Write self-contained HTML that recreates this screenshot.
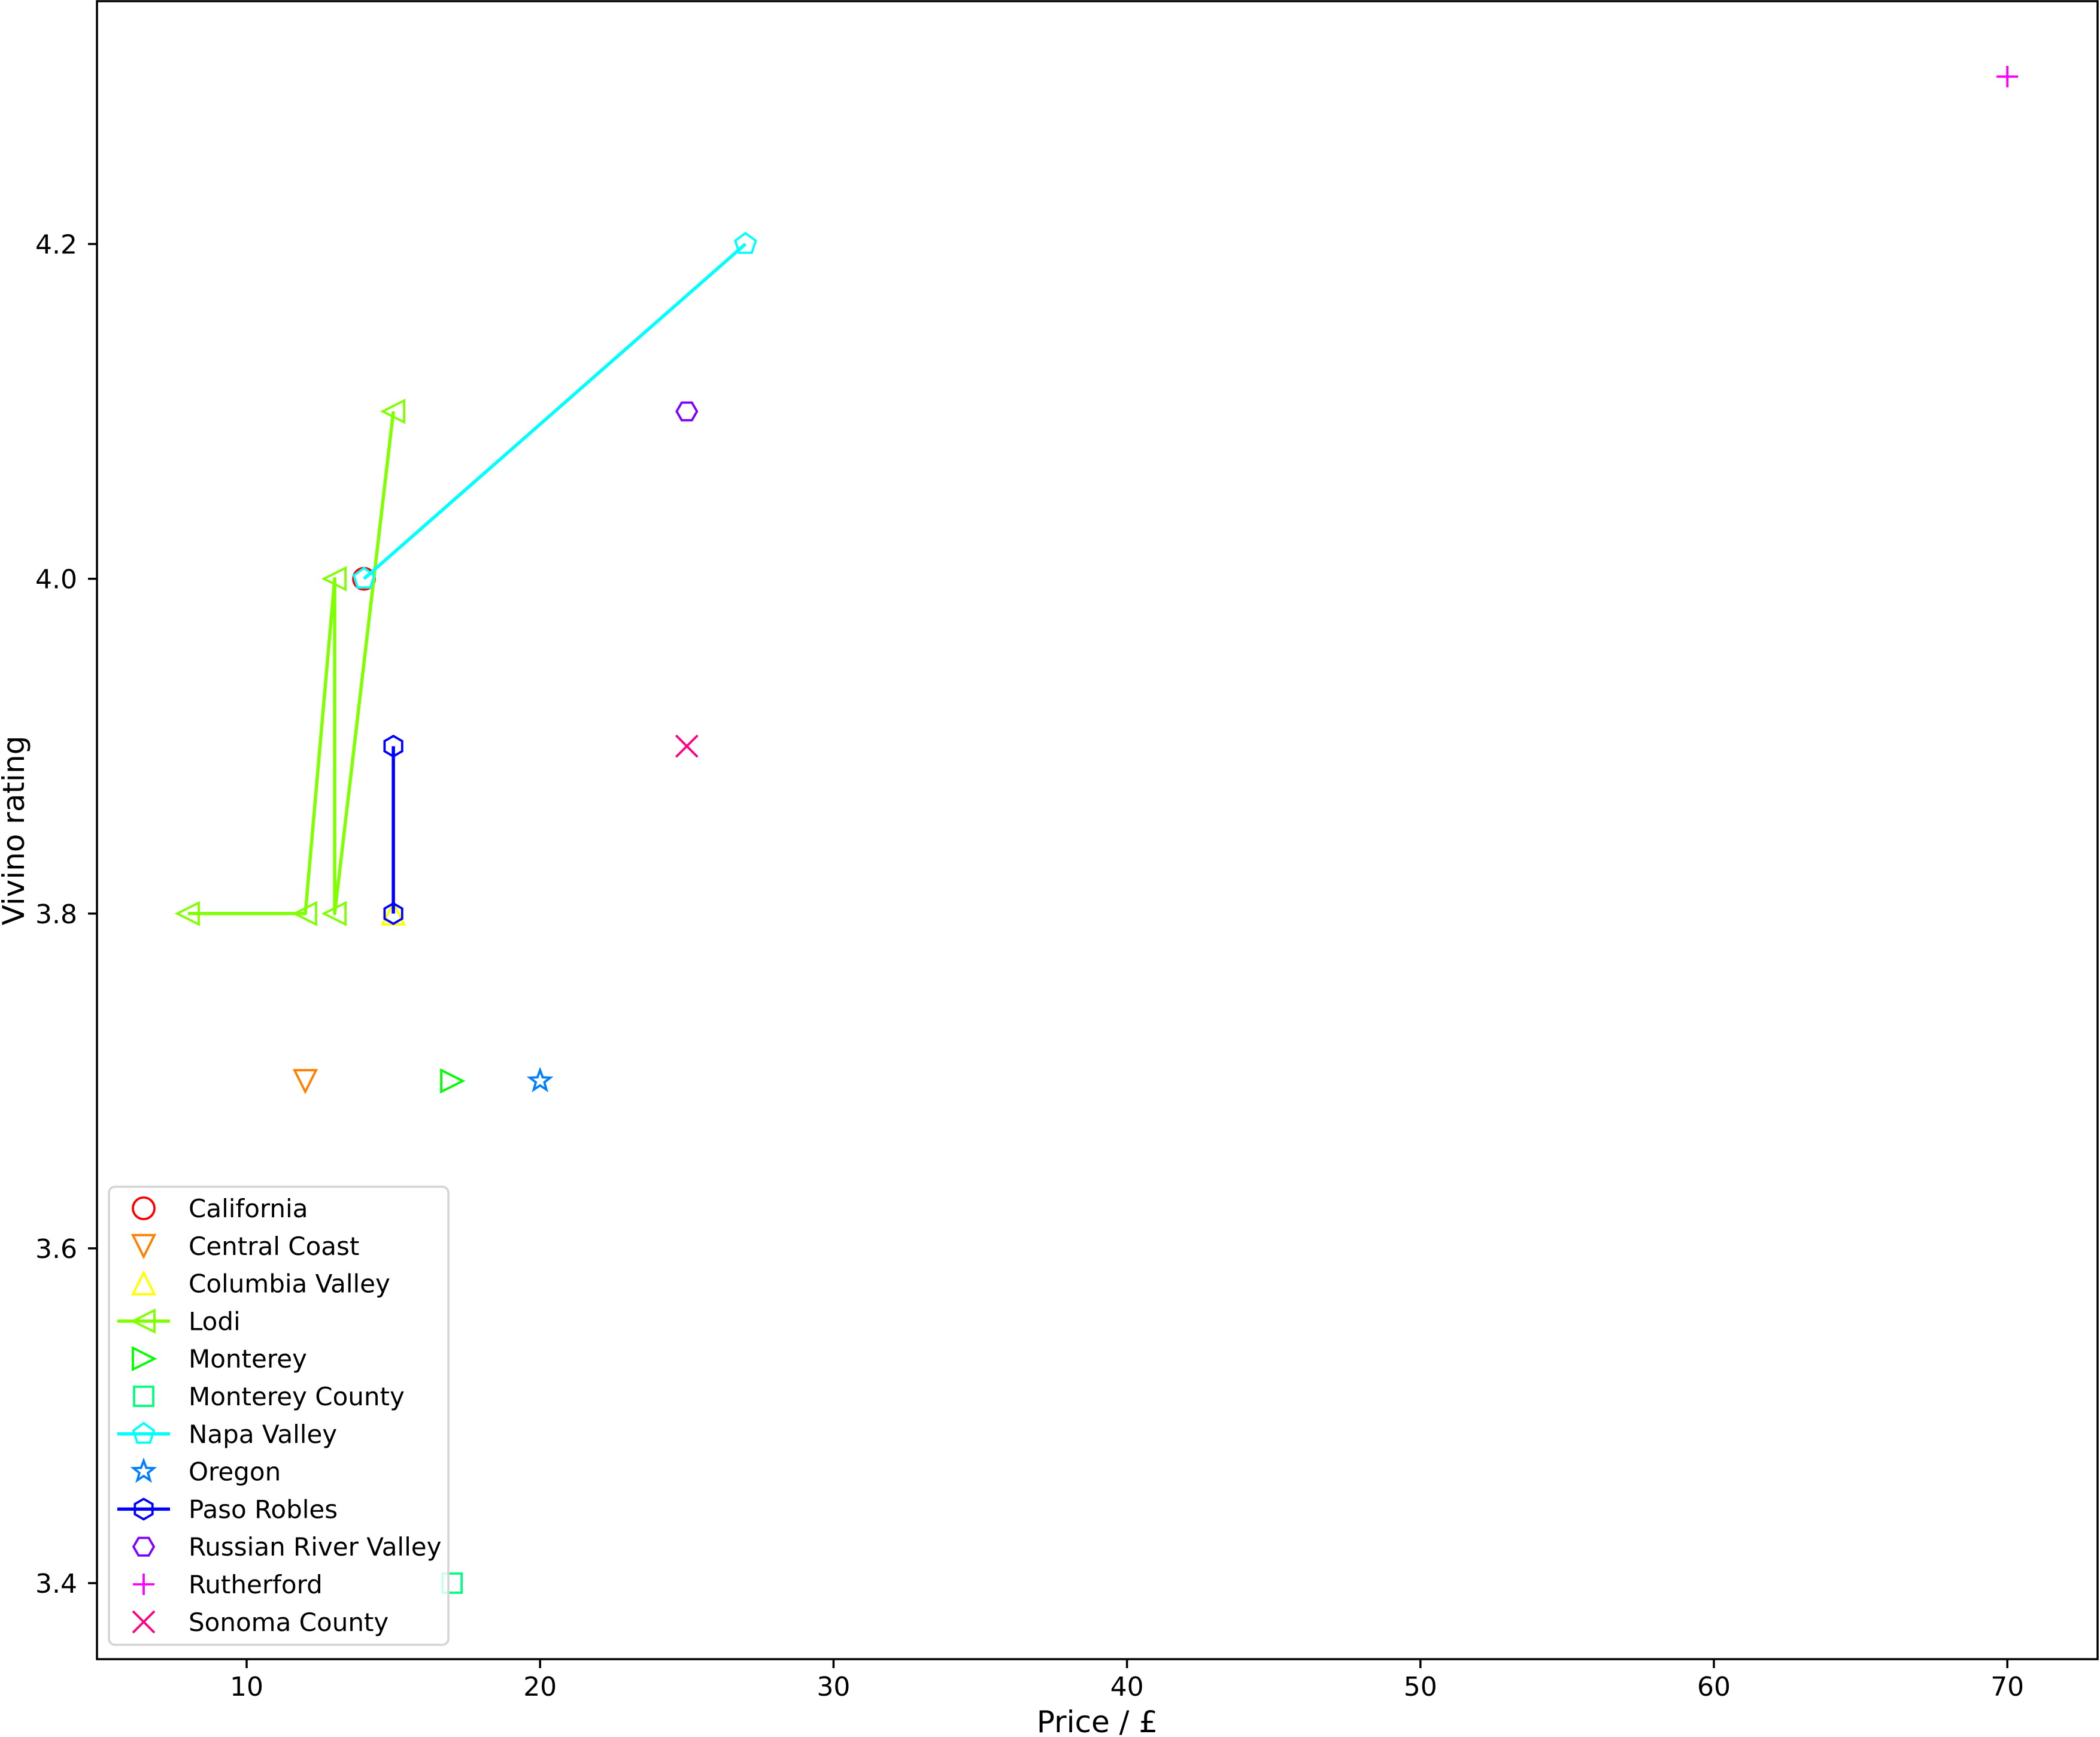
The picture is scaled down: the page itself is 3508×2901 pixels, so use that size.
<!DOCTYPE html>
<html><head><meta charset="utf-8"><style>
html,body{margin:0;padding:0;background:#fff;}
svg{display:block;font-family:"DejaVu Sans","Liberation Sans",sans-serif;}
</style></head><body>
<svg id="chart" width="3508" height="2901" viewBox="0 0 3508 2901" xmlns="http://www.w3.org/2000/svg">
<rect width="3508" height="2901" fill="#fff"/>
<g id="plot"></g>
<g id="axes"></g>
<g id="legend"></g>
<text x="1833" y="2893" font-size="50" text-anchor="middle">Price / £</text>
<text transform="translate(40,1387) rotate(-90)" font-size="50" text-anchor="middle">Vivino rating</text>
</svg>
<script>
const seriesNames = ["California","Central Coast","Columbia Valley","Lodi","Monterey","Monterey County","Napa Valley","Oregon","Paso Robles","Russian River Valley","Rutherford","Sonoma County"];
const seriesPrices = [[14],[12],[15],[8,12,13,13,15],[17],[17],[14,27],[20],[15,15],[25],[70],[25]];
const seriesRatings = [[4.0],[3.7],[3.8],[3.8,3.8,4.0,3.8,4.1],[3.7],[3.4],[4.0,4.2],[3.7],[3.9,3.8],[4.1],[4.3],[3.9]];
const seriesColors = ["#ff0000","#ff8000","#ffff00","#80ff00","#00ff00","#00ff80","#00ffff","#0080ff","#0000ff","#8000ff","#ff00ff","#ff0080"];
const seriesMarkers = ["o","v","^","<",">","s","p","*","h","H","+","x"];
const seriesLined = [false,false,false,true,false,false,true,false,true,false,false,false];
const xTicks = [10,20,30,40,50,60,70];
const yTicks = [3.4,3.6,3.8,4.0,4.2];
const yTickLabels = ["3.4","3.6","3.8","4.0","4.2"];

const NS="http://www.w3.org/2000/svg";
const L=162,R=3504,T=2,B=2771;
function xs(v){return 412+(v-10)*49.02;}
function ys(v){return 2644-(v-3.4)*2795.6;}
function mk(tag,attrs,parent){const e=document.createElementNS(NS,tag);for(const k in attrs)e.setAttribute(k,attrs[k]);parent.appendChild(e);return e;}
function poly(pts){return pts.map(p=>p[0].toFixed(1)+","+p[1].toFixed(1)).join(" ");}
function marker(type,cx,cy,color,parent){
  const r=18, st={fill:"none",stroke:color,"stroke-width":3.8,"stroke-linejoin":"miter"};
  let e;
  const reg=(n,rad,rot)=>{const p=[];for(let i=0;i<n;i++){const a=rot+i*2*Math.PI/n;p.push([cx+rad*Math.sin(a),cy-rad*Math.cos(a)]);}return p;};
  if(type==="o") e=mk("circle",Object.assign({cx:cx,cy:cy,r:r},st),parent);
  else if(type==="v") e=mk("polygon",Object.assign({points:poly([[cx,cy+r],[cx-r,cy-r],[cx+r,cy-r]])},st),parent);
  else if(type==="^") e=mk("polygon",Object.assign({points:poly([[cx,cy-r],[cx-r,cy+r],[cx+r,cy+r]])},st),parent);
  else if(type==="<") e=mk("polygon",Object.assign({points:poly([[cx-r,cy],[cx+r,cy-r],[cx+r,cy+r]])},st),parent);
  else if(type===">") e=mk("polygon",Object.assign({points:poly([[cx+r,cy],[cx-r,cy-r],[cx-r,cy+r]])},st),parent);
  else if(type==="s") e=mk("rect",Object.assign({x:cx-16,y:cy-16,width:32,height:32},st),parent);
  else if(type==="p") e=mk("polygon",Object.assign({points:poly(reg(5,18,0))},st),parent);
  else if(type==="h") e=mk("polygon",Object.assign({points:poly(reg(6,17,0))},st),parent);
  else if(type==="H") e=mk("polygon",Object.assign({points:poly(reg(6,17,Math.PI/6))},st),parent);
  else if(type==="*"){const p=[];for(let i=0;i<10;i++){const a=i*Math.PI/5;const rr=i%2?7.5:18;p.push([cx+rr*Math.sin(a),cy-rr*Math.cos(a)]);}e=mk("polygon",Object.assign({points:poly(p)},st),parent);}
  else if(type==="+") e=mk("path",Object.assign({d:`M${cx-r},${cy}H${cx+r}M${cx},${cy-r}V${cy+r}`},st),parent);
  else if(type==="x") e=mk("path",Object.assign({d:`M${cx-r},${cy-r}L${cx+r},${cy+r}M${cx-r},${cy+r}L${cx+r},${cy-r}`},st),parent);
  return e;
}
const plot=document.getElementById("plot");
seriesNames.forEach((name,i)=>{
  const slug=name.toLowerCase().replace(/ /g,"-");
  const g=mk("g",{},plot);
  
  
  const px=seriesPrices[i].map(xs), py=seriesRatings[i].map(ys);
  if(seriesLined[i]){
    const ln=mk("polyline",{points:poly(px.map((x,j)=>[x,py[j]])),fill:"none",stroke:seriesColors[i],"stroke-width":5.5,"stroke-linejoin":"round"},g);
    
    
  }
  px.forEach((x,j)=>{
    const m=marker(seriesMarkers[i],x,py[j],seriesColors[i],g);
    
    
  });
});
const axes=document.getElementById("axes");
const frame=mk("rect",{x:L,y:T,width:R-L,height:B-T,fill:"none",stroke:"#000","stroke-width":3.5},axes);


xTicks.forEach(v=>{
  const x=xs(v);
  const t=mk("line",{x1:x,y1:B,x2:x,y2:B+15,stroke:"#000","stroke-width":3.5},axes);
  
  
  const lb=mk("text",{x:x,y:B+61,"font-size":44,"text-anchor":"middle"},axes);
  lb.textContent=String(v);
  
  
});
yTicks.forEach((v,i)=>{
  const y=ys(v);
  const t=mk("line",{x1:L-15,y1:y,x2:L,y2:y,stroke:"#000","stroke-width":3.5},axes);
  
  
  const lb=mk("text",{x:L-33,y:y+16,"font-size":44,"text-anchor":"end"},axes);
  lb.textContent=yTickLabels[i];
  
  
});
const leg=document.getElementById("legend");
const box=mk("rect",{x:182,y:1982,width:567,height:765,rx:10,fill:"#fff","fill-opacity":0.8,stroke:"#d3d3d3","stroke-width":3.5},leg);


seriesNames.forEach((name,i)=>{
  const y=2018+i*62.8;
  const g=mk("g",{},leg);
  
  
  if(seriesLined[i]) mk("line",{x1:196,y1:y,x2:284,y2:y,stroke:seriesColors[i],"stroke-width":5.5},g);
  marker(seriesMarkers[i],240,y,seriesColors[i],g);
  const t=mk("text",{x:315,y:y+15,"font-size":42},g);
  t.textContent=name;
});
</script>
</body></html>
